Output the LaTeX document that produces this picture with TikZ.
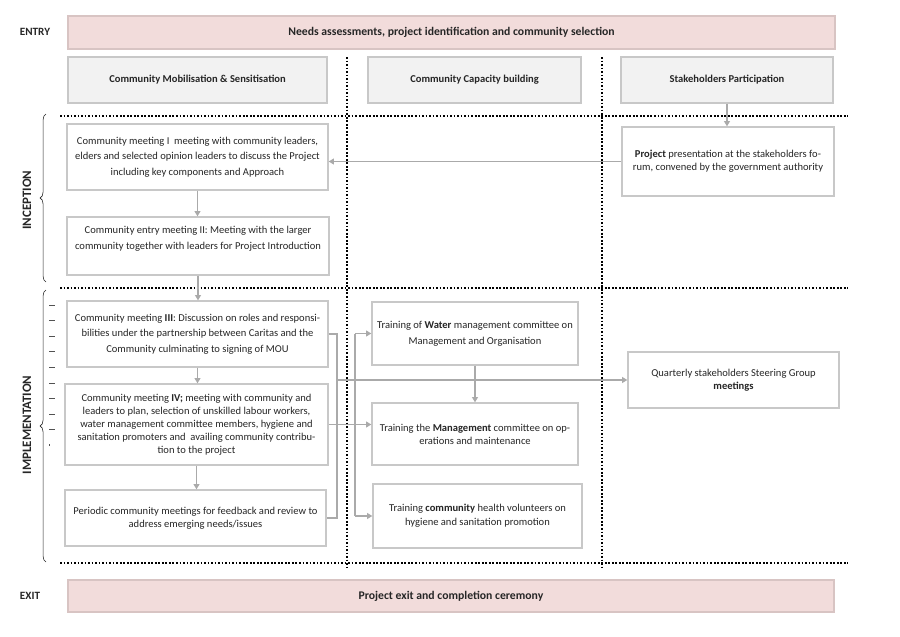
\documentclass[tikz,border=0pt]{standalone}
\usepackage{fontspec}
\setmainfont{Carlito}
\usetikzlibrary{arrows.meta,positioning,decorations.pathreplacing}
\definecolor{ink}{HTML}{262626}
\definecolor{blush}{HTML}{F2DCDB}
\definecolor{blushline}{HTML}{D8C4C3}
\definecolor{pale}{HTML}{F2F2F2}
\definecolor{linegray}{HTML}{C8C8C8}
\definecolor{wire}{HTML}{AAAAAA}

\begin{document}
\begin{tikzpicture}[x=0.03cm,y=-0.03cm,text=ink,
 font=\fontsize{9}{13.2}\selectfont,
 sz/.style 2 args={minimum width=#1*0.03cm,minimum height=#2*0.03cm},
 box/.style={draw=linegray,line width=1.1pt,fill=white,align=center,inner sep=2pt},
 tight/.style={font=\fontsize{9}{11.2}\selectfont},
 head/.style={box,fill=pale,font=\fontsize{9}{11}\selectfont\bfseries},
 band/.style={draw=blushline,line width=1.1pt,fill=blush,font=\fontsize{10}{12}\selectfont\bfseries},
 phase/.style={font=\fontsize{11}{13}\selectfont\bfseries,rotate=90},
 gate/.style={font=\fontsize{9.5}{11}\selectfont\bfseries},
 sepline/.style={line width=1.5pt,dash pattern=on 1.5pt off 1.5pt},
 bus/.style={draw=wire,line width=1.2pt},
 flow/.style={bus,-{Triangle[length=4.5pt,width=5pt]}}]
\useasboundingbox (0,0) rectangle (900,636);
% column and stage separators
\foreach \y in {116,288,563} \draw[sepline] (60,\y) -- (848,\y);
\foreach \x in {347,602} \draw[sepline] (\x,57) -- (\x,570);
% entry and exit
\node[gate] (entrylbl) at (35,32) {ENTRY};
\node[band,sz={767}{33}] (entry) at (451.5,32.5) {Needs assessments, project identification and community selection};
\node[gate] (exitlbl) at (30,596) {EXIT};
\node[band,sz={766}{32}] (exit) at (451,596) {Project exit and completion ceremony};
% column heads
\node[head,sz={259}{46}] (hmob) at (197.5,80) {Community Mobilisation \& Sensitisation};
\node[head,sz={213}{46}] (hcap) at (474.5,80) {Community Capacity building};
\node[head,sz={212}{46}] (hstk) at (727,80) {Stakeholders Participation};
% inception
\node[box,sz={261}{66}] (m1) at (197.5,157) {Community meeting I\ \ meeting with community leaders,\\elders and selected opinion leaders to discuss the Project\\including key components and Approach};
\node[box,sz={262}{58},font=\fontsize{9}{14}\selectfont] (m2) at (198,246) {Community entry meeting II: Meeting with the larger\\community together with leaders for Project Introduction\\\mbox{}};
\node[box,tight,sz={212}{69}] (proj) at (728,161.5) {\textbf{Project} presentation at the stakeholders fo-\\rum, convened by the government authority};
% implementation
\node[box,sz={261}{66}] (m3) at (197.5,334) {Community meeting \textbf{III}: Discussion on roles and responsi-\\bilities under the partnership between Caritas and the\\Community culminating to signing of MOU};
\node[box,tight,sz={263}{81}] (m4) at (196.5,424.5) {Community meeting \textbf{IV;} meeting with community and\\leaders to plan, selection of unskilled labour workers,\\water management committee members, hygiene and\\sanitation promoters and\ \ availing community contribu-\\tion to the project};
\node[box,tight,sz={261}{56}] (per) at (195.5,518) {Periodic community meetings for feedback and review to\\address emerging needs/issues};
\node[box,sz={206}{63},font=\fontsize{9}{13.6}\selectfont] (water) at (475,333.5) {Training of \textbf{Water} management committee on\\Management and Organisation};
\node[box,tight,sz={206}{62}] (mgmt) at (475,434) {Training the \textbf{Management} committee on op-\\erations and maintenance};
\node[box,sz={209}{64},font=\fontsize{9}{12}\selectfont] (hyg) at (477.5,516) {Training \textbf{community} health volunteers on\\hygiene and sanitation promotion};
\node[box,tight,sz={211}{56}] (quart) at (733.5,380) {Quarterly stakeholders Steering Group\\\textbf{meetings}};
% stage braces
\draw[decorate,decoration={brace,amplitude=5pt},ink,line width=0.5pt] (46,282) -- (46,114);
\draw[decorate,decoration={brace,amplitude=5pt},ink,line width=0.5pt] (46,562) -- (46,290);
\node[phase] (inc) at (27,200) {INCEPTION};
\node[phase] (impl) at (27,425) {IMPLEMENTATION};
\foreach \k in {0,...,8} \draw[ink!80,line width=0.6pt] (49,{305+15.6*\k}) -- (55,{305+15.6*\k});
\fill[ink!80] (48.5,444) rectangle (50,445.5);
% connectors
\draw[flow] (hstk.south) -- (hstk.south |- proj.north);
\draw[flow] (proj.west) -- (proj.west -| m1.east);
\foreach \a/\b in {m1/m2,m2/m3,m3/m4,m4/per} \draw[flow] (\a.south) -- (\a.south |- \b.north);
\draw[flow] (water) -- (mgmt);
\coordinate (ja) at (337,518);
\coordinate (jb) at (355,0);
\draw[bus] (m3.east) -| (ja) -- (per.east);
\draw[flow] (ja |- quart.west) -- (quart.west);
\draw[flow] (m4.east) -- (m4.east -| mgmt.west);
\draw[bus] (water.west -| jb) -- (hyg.west -| jb);
\draw[flow] (water.west -| jb) -- (water.west);
\draw[flow] (hyg.west -| jb) -- (hyg.west);
\end{tikzpicture}
\end{document}
